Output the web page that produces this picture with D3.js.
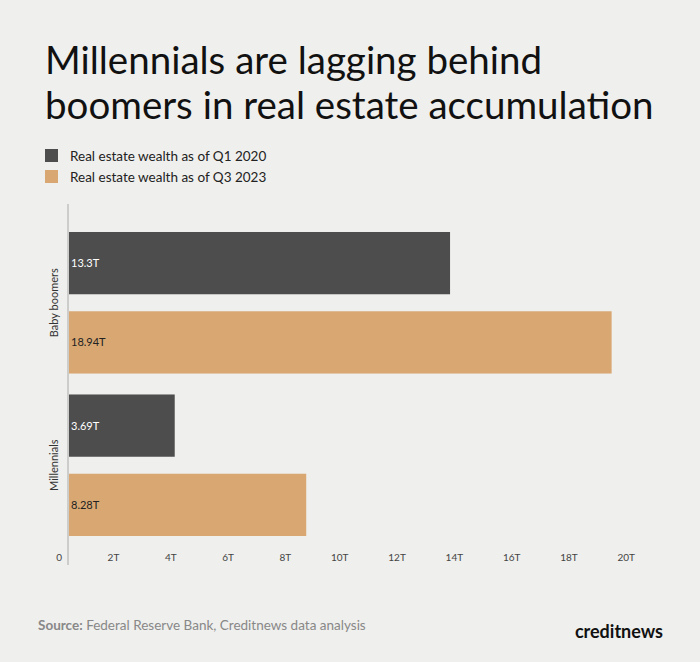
<!DOCTYPE html>
<html><head><meta charset="utf-8">
<script src="https://cdn.jsdelivr.net/npm/d3@7"></script>
<style>body{margin:0;background:#efefed;font-family:Lato,sans-serif}</style>
</head><body><div id="chart"></div>
<script>
const categories = ["Baby boomers", "Millennials"];
const seriesNames = ["Real estate wealth as of Q1 2020", "Real estate wealth as of Q3 2023"];
const q1_2020 = [13.3, 3.69];
const q3_2023 = [18.94, 8.28];
const valueLabels = [["13.3T", "18.94T"], ["3.69T", "8.28T"]];
const ticks = [0, 2, 4, 6, 8, 10, 12, 14, 16, 18, 20];
const colors = ["#4d4d4d", "#d9a872"];

const W = 700, H = 662;
const svg = d3.select("#chart").append("svg").attr("width", W).attr("height", H);
svg.append("rect").attr("width", W).attr("height", H).attr("fill", "#efefed");

svg.append("text").attr("x", 45).attr("y", 74).attr("font-size", 38.5).attr("fill", "#111").text("Millennials are lagging behind");
svg.append("text").attr("x", 45).attr("y", 119).attr("font-size", 38.5).attr("fill", "#111").text("boomers in real estate accumulation");

seriesNames.forEach((s, i) => {
  svg.append("rect").attr("x", 45).attr("y", 149 + i * 21).attr("width", 13).attr("height", 13).attr("fill", colors[i]);
  svg.append("text").attr("x", 70).attr("y", 161 + i * 21).attr("font-size", 13.5).attr("fill", "#222").text(s);
});

const x = d3.scaleLinear().domain([0, 20]).range([68, 641]);
const y = d3.scaleBand().domain(categories).range([221.5, 546.5]).paddingInner(0.129).paddingOuter(0.0646);
const sub = d3.scaleBand().domain([0, 1]).range([0, y.bandwidth()]).paddingInner(0.2145);

svg.append("line").attr("x1", 68).attr("x2", 68).attr("y1", 204).attr("y2", 565).attr("stroke", "#aaa");

const rows = categories.map((c, i) => [q1_2020[i], q3_2023[i]]);
categories.forEach((c, i) => {
  rows[i].forEach((v, j) => {
    const yy = y(c) + sub(j);
    svg.append("rect").attr("x", x(0) + 1).attr("y", yy).attr("width", x(v) - x(0)).attr("height", sub.bandwidth()).attr("fill", colors[j]);
    svg.append("text").attr("x", 71).attr("y", yy + sub.bandwidth() / 2 + 4).attr("font-size", 11)
      .attr("fill", j === 0 ? "#fff" : "#222").text(valueLabels[i][j]);
  });
  svg.append("text").attr("transform", `translate(58,${y(c) + y.bandwidth() / 2}) rotate(-90)`)
    .attr("text-anchor", "middle").attr("font-size", 11).attr("fill", "#333").text(c);
});

svg.selectAll(".tk").data(ticks).join("text").attr("class", "tk")
  .attr("x", d => x(d) - 6).attr("y", 561).attr("text-anchor", "end").attr("font-size", 10).attr("fill", "#444")
  .text(d => d === 0 ? "0" : d + "T");

const src = svg.append("text").attr("x", 38).attr("y", 630).attr("font-size", 13.5).attr("fill", "#888");
src.append("tspan").attr("font-weight", "bold").text("Source:");
src.append("tspan").text(" Federal Reserve Bank, Creditnews data analysis");
svg.append("text").attr("x", 663).attr("y", 638).attr("text-anchor", "end").attr("font-size", 18).attr("font-weight", "bold").attr("fill", "#111").text("creditnews");
</script></body></html>
